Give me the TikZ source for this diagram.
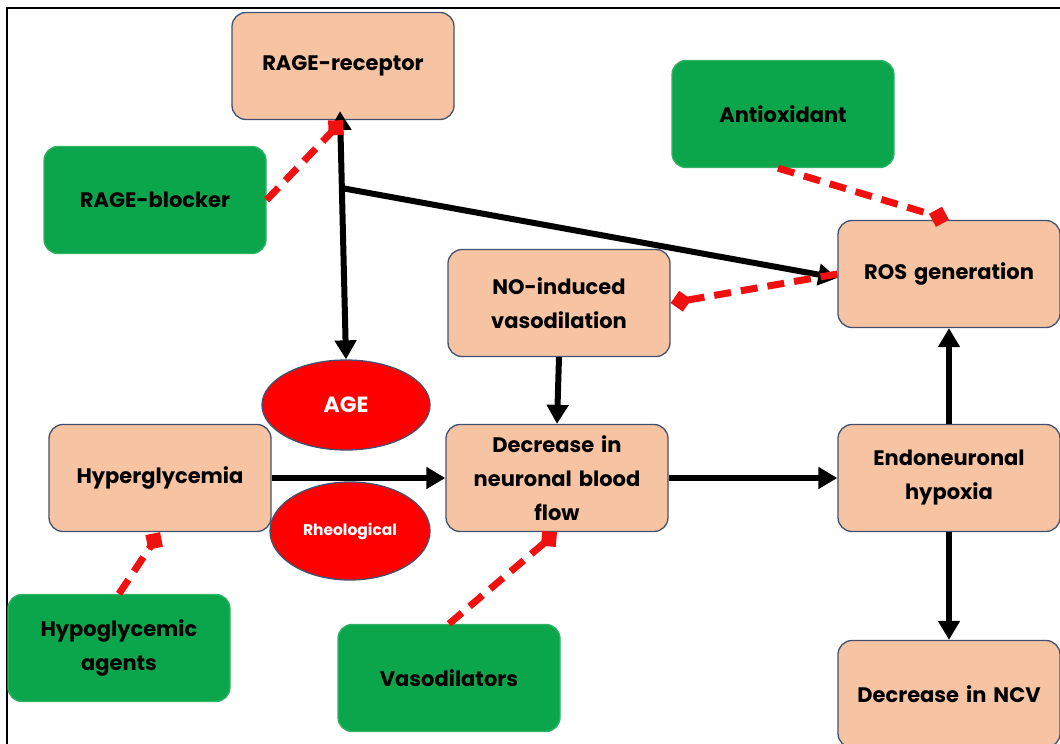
\documentclass[tikz,border=0pt]{standalone}
\usepackage{fontspec}
\setmainfont{Poppins}
\usetikzlibrary{arrows.meta,shapes.geometric,calc}
\definecolor{peach}{HTML}{F6C3A3}
\definecolor{edge}{HTML}{415271}
\definecolor{grn}{HTML}{0BA64B}
\definecolor{rd}{HTML}{F01010}
\tikzset{
  box/.style={rectangle, rounded corners=14pt, draw=edge, line width=1.3pt, fill=peach,
    minimum width=222pt, minimum height=107pt, text width=216pt, align=center, inner sep=0pt,
    font=\bfseries\fontsize{21}{34}\selectfont},
  gbox/.style={box, draw=grn!85!white, fill=grn},
  oval/.style={ellipse, draw=edge, line width=1.3pt, fill=red, text=white, inner sep=0pt,
    font=\bfseries\fontsize{22}{24}\selectfont},
  blk/.style={line width=6pt, -{Triangle[length=19pt,width=21pt]}},
  dbl/.style={line width=6pt, {Triangle[length=19pt,width=21pt]}-{Triangle[length=19pt,width=21pt]}},
  inh/.style={rd, line width=7pt, dash pattern=on 17pt off 10pt, -{Diamond[length=21pt,width=21pt]}}
}
\begin{document}
\begin{tikzpicture}[x=1pt,y=-1pt]
\useasboundingbox (0,0) rectangle (1060,744);
\clip (0,0) rectangle (1060,744);
\fill[white] (0,0) rectangle (1060,744);
\draw[line width=2pt] (7,760) -- (7,8) -- (1080,8);

\node[box] (rage) at (343,66) {RAGE-receptor};
\node[gbox] (blocker) at (155,200) {RAGE-blocker};
\node[gbox] (antiox) at (783,114) {Antioxidant};
\node[box] (ros) at (949,274) {ROS generation};
\node[box] (no) at (559,303) {NO-induced\\vasodilation};
\node[oval, minimum width=168pt, minimum height=90pt] (age) at (346,405) {AGE};
\node[oval, minimum width=160pt, minimum height=98pt, font=\bfseries\fontsize{15.5}{18}\selectfont] (rheo) at (350,531) {Rheological};
\node[box] (hyper) at (160,478) {Hyperglycemia};
\node[box] (dec) at (557,478) {Decrease in\\neuronal blood\\flow};
\node[box] (endo) at (949,478) {Endoneuronal\\hypoxia};
\node[gbox] (hypo) at (119,648) {Hypoglycemic\\agents};
\node[gbox] (vaso) at (449,678) {Vasodilators};
\node[box] (ncv) at (949,694) {Decrease in NCV};

\coordinate (rtop) at ([xshift=-3pt,yshift=9pt]rage.south);
\draw[dbl] (age.north) -- (rtop);
\coordinate (br) at ($(rtop)!0.31!(age.north)$);
\draw[blk] (br) -- ([yshift=-4pt]ros.west);
\draw[blk] (no.south) -- (dec.north);
\draw[blk] (hyper.east) -- (dec.west);
\draw[blk] (dec.east) -- (endo.west);
\draw[blk] (endo.north) -- (ros.south);
\draw[blk] (endo.south) -- (ncv.north);

\draw[inh] (blocker.east) -- (rage.south);
\draw[inh] ([xshift=-5pt]antiox.south) -- (ros.north);
\draw[inh] (ros.west) -- (no.east);
\draw[inh] (hypo.north) -- (hyper.south);
\draw[inh] (vaso.north) -- (dec.south);
\end{tikzpicture}
\end{document}
